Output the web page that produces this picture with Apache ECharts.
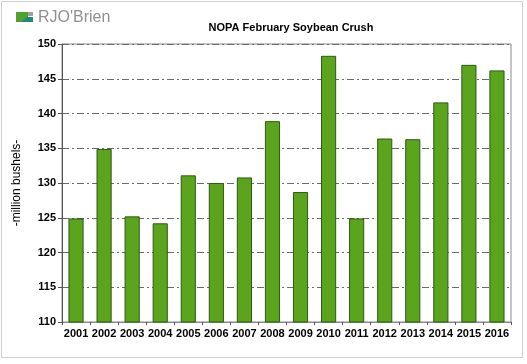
<!DOCTYPE html>
<html>
<head>
<meta charset="utf-8">
<script src="https://cdn.jsdelivr.net/npm/echarts@6/dist/echarts.min.js"></script>
<style>
html,body{margin:0;padding:0;background:#fff;}
#chart{width:527px;height:364px;}
</style>
</head>
<body>
<div id="chart"></div>
<script>
const years = ['2001','2002','2003','2004','2005','2006','2007','2008','2009','2010','2011','2012','2013','2014','2015','2016'];
const crush = [124.9, 134.9, 125.2, 124.2, 131.1, 130.0, 130.8, 138.9, 128.7, 148.3, 124.9, 136.4, 136.3, 141.6, 147.0, 146.2];
const yMin = 110, yMax = 150, yStep = 5;
const titleText = 'NOPA February Soybean Crush';
const yName = '-million bushels-';

const chart = echarts.init(document.getElementById('chart'));
chart.setOption({
  animation: false,
  backgroundColor: '#fff',
  title: {
    text: titleText,
    left: 286, top: 17, textAlign: 'center',
    textStyle: {fontFamily: 'Liberation Sans, Arial', fontSize: 11, fontWeight: 'bold', color: '#000'}
  },
  graphic: [
    {type: 'rect', shape: {x: 1.5, y: 1.5, width: 521, height: 356}, style: {fill: 'none', stroke: '#cfcfcf', lineWidth: 1}, z: -1},
    {type: 'rect', shape: {x: 16, y: 12, width: 12, height: 10}, style: {fill: '#52a02e'}},
    {type: 'rect', shape: {x: 28, y: 12, width: 5, height: 4}, style: {fill: '#a0a0a0'}},
    {type: 'polygon', shape: {points: [[21, 22], [33, 22], [33, 17], [27, 17]]}, style: {fill: '#1f8a78'}},
    {type: 'text', left: 38, top: 10, style: {text: "RJO'Brien", fontFamily: 'Liberation Sans, Arial', fontSize: 16, fill: '#909090'}}
  ],
  grid: {left: 62, right: 16, top: 44, bottom: 42, show: true, borderColor: '#8a8a8a', borderWidth: 1},
  xAxis: {
    type: 'category',
    data: years,
    axisLine: {lineStyle: {color: '#8a8a8a'}},
    axisTick: {show: true, alignWithLabel: false, length: 3, lineStyle: {color: '#555'}},
    axisLabel: {color: '#000', fontFamily: 'Liberation Sans, Arial', fontSize: 11, fontWeight: 'bold', margin: 6, interval: 0}
  },
  yAxis: {
    type: 'value',
    min: yMin, max: yMax, interval: yStep,
    name: yName, nameLocation: 'middle', nameRotate: 90, nameGap: 39,
    nameTextStyle: {color: '#000', fontFamily: 'Liberation Sans, Arial', fontSize: 12},
    axisLine: {show: true, lineStyle: {color: '#555'}},
    axisTick: {show: true, length: 4, lineStyle: {color: '#555'}},
    axisLabel: {color: '#000', fontFamily: 'Liberation Sans, Arial', fontSize: 11, fontWeight: 'bold', margin: 6},
    splitLine: {show: true, lineStyle: {color: '#6a6a6a', width: 1, type: [7, 3, 2, 3]}}
  },
  series: [{
    type: 'bar',
    data: crush,
    barWidth: '54%',
    itemStyle: {color: '#5aa41e', borderColor: '#2f5a10', borderWidth: 1}
  }]
});
</script>
</body>
</html>
